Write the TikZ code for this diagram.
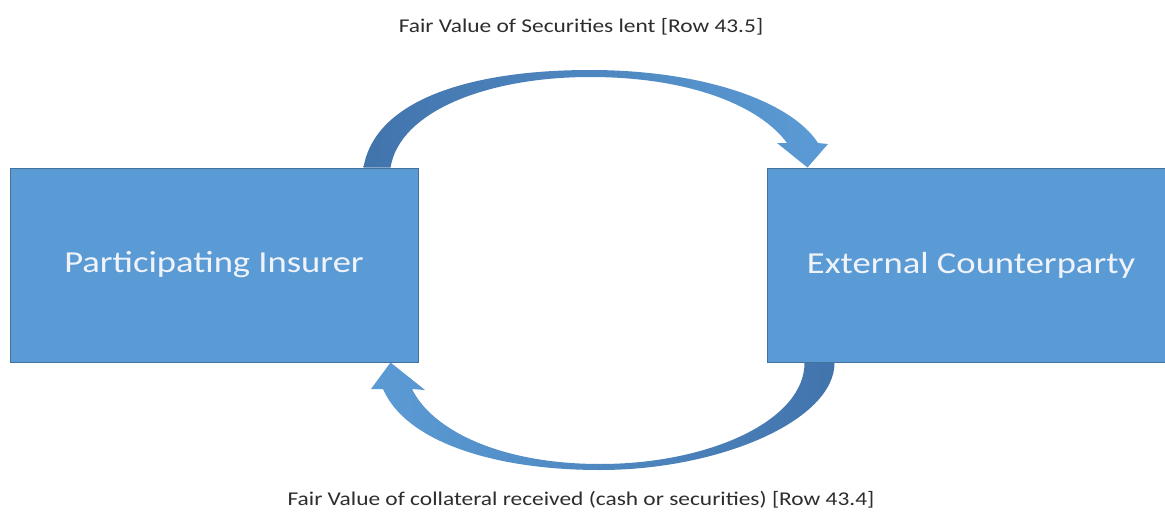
\documentclass[tikz,border=0pt]{standalone}
\usepackage{fontspec}
\setmainfont{Carlito}
\newfontfamily\widefont[FakeStretch=1.2]{Carlito}
\usetikzlibrary{calc}
\definecolor{boxblue}{RGB}{91,155,213}
\definecolor{boxedge}{RGB}{65,113,156}
\definecolor{arrdark}{RGB}{66,116,172}
\definecolor{labelgray}{RGB}{45,45,45}
\definecolor{boxtext}{RGB}{240,244,250}
\pgfdeclarelayer{bg}
\pgfsetlayers{bg,main}
\begin{document}
\begin{tikzpicture}[x=1pt,y=-1pt,
  party/.style={draw=boxedge, line width=1pt, fill=boxblue, minimum width=408pt,
    minimum height=194pt, inner sep=0pt, text=boxtext, font=\widefont\fontsize{30.5}{36}\selectfont},
  flowlabel/.style={text=labelgray, font=\widefont\fontsize{19.5}{23}\selectfont, inner sep=0pt},
  blockarrow/.style={draw=none}]
\useasboundingbox (0,0) rectangle (1165,514);
\node[party] (ins) at (214,265) {Participating Insurer};
\node[party] (cp) at (971,265) {External Counterparty};
\node[flowlabel] (lent) at (581,27) {Fair Value of Securities lent [Row 43.5]};
\node[flowlabel] (coll) at (581,500) {Fair Value of collateral received (cash or securities) [Row 43.4]};
\coordinate (t1) at ($(ins.north east)+(-55,0)$);
\coordinate (t2) at ($(ins.north east)+(-28,0)$);
\coordinate (ttip) at ($(cp.north west)+(41,0)$);
\coordinate (b1) at ($(cp.south west)+(38,0)$);
\coordinate (b2) at ($(cp.south west)+(68,0)$);
\coordinate (btip) at ($(ins.south east)+(-28,0)$);
\begin{pgfonlayer}{bg}
\fill[white] (0,0) rectangle (1165,514);
\path[blockarrow, left color=arrdark, right color=boxblue]
  (t1) .. controls (375,100) and (470,70) .. (590,70)
       .. controls (700,70) and (790,100) .. (818,143)
  -- (828,144) -- (ttip) -- (777,143) -- (787,143)
       .. controls (760,106) and (690,77) .. (590,77)
       .. controls (490,77) and (400,110) .. (t2) -- cycle;
\path[blockarrow, left color=boxblue, right color=arrdark]
  (b2) .. controls (835,420) and (720,470) .. (600,470)
       .. controls (490,470) and (405,440) .. (383,389)
  -- (371,389) -- (btip) -- (425,390) -- (412,389)
       .. controls (432,430) and (500,464) .. (600,464)
       .. controls (710,464) and (805,420) .. (b1) -- cycle;
\end{pgfonlayer}
\end{tikzpicture}
\end{document}
